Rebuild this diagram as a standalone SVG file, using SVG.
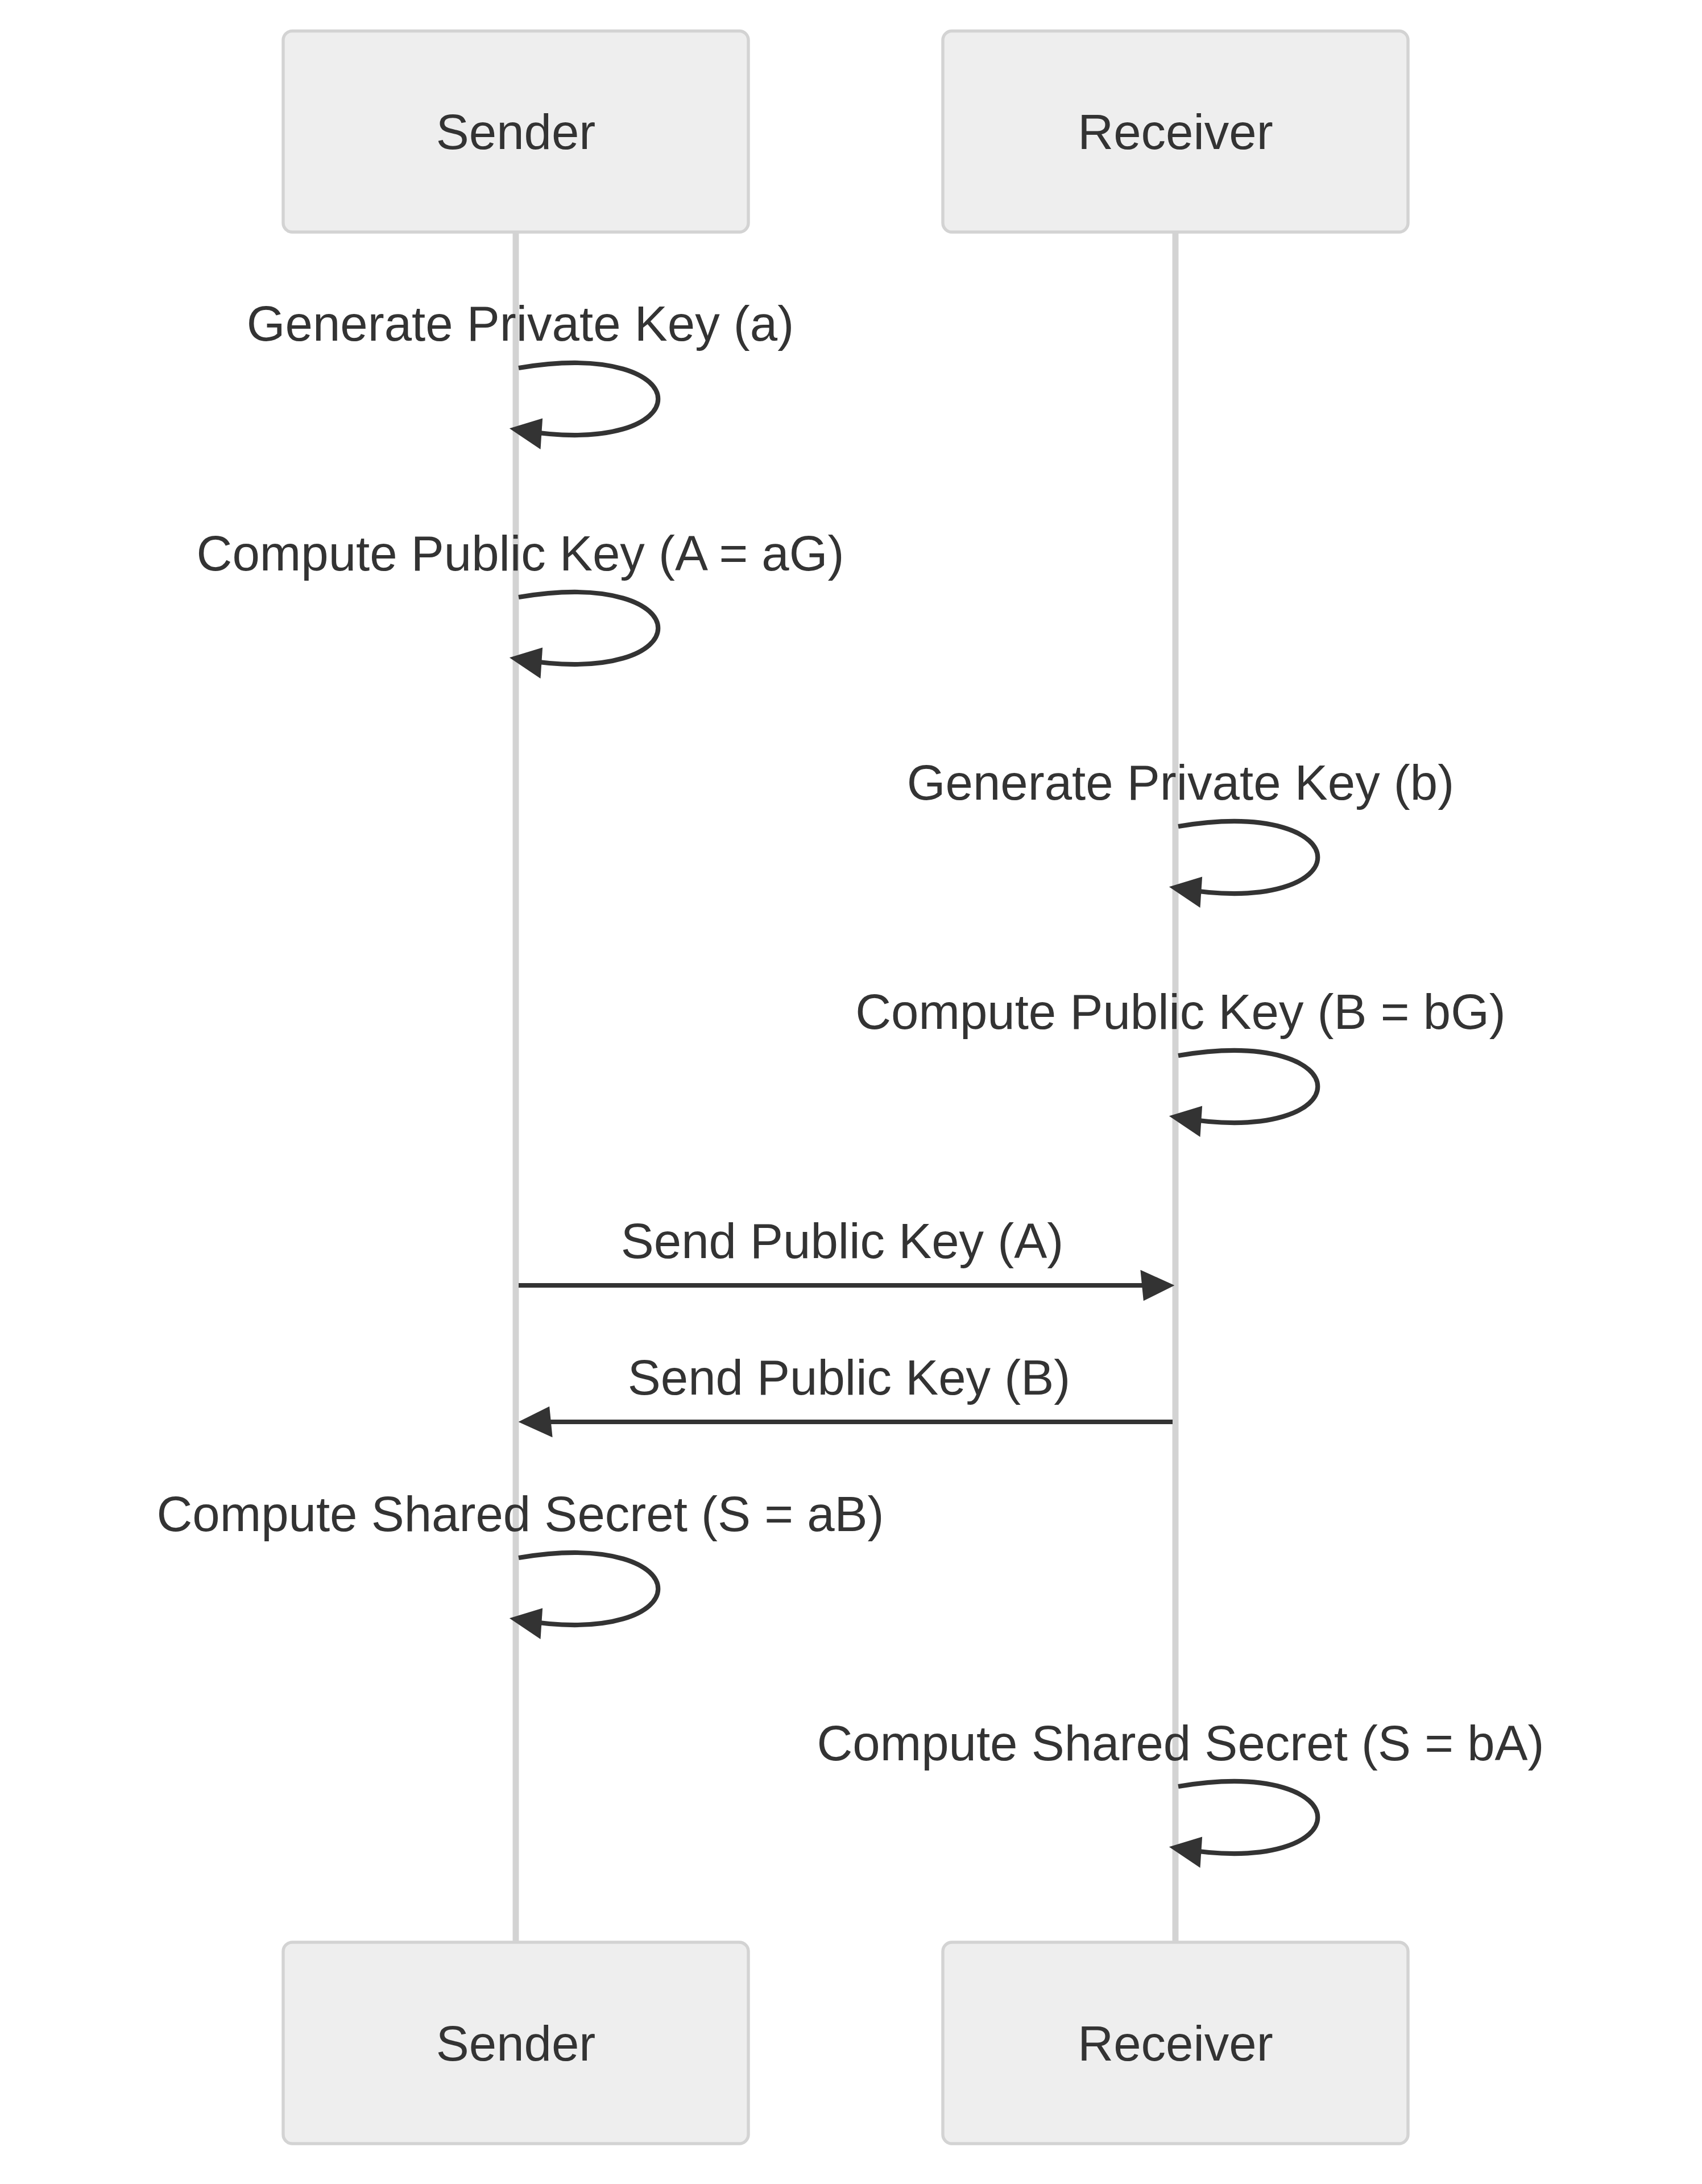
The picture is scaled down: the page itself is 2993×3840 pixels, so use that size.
<svg xmlns="http://www.w3.org/2000/svg" width="2993" height="3840" viewBox="0 0 2993 3840">
<style>
.actor{fill:#eeeeee;stroke:#d3d3d3;stroke-width:5.45}
.actorText{font-family:"Liberation Sans",Arial,sans-serif;font-size:87px;fill:#333333;text-anchor:middle}
.lifeline{stroke:#d3d3d3;stroke-width:10.9;fill:none}
.msg{stroke:#333333;stroke-width:8.2;fill:none;marker-end:url(#arrowhead)}
.msgText{font-family:"Liberation Sans",Arial,sans-serif;font-size:87px;fill:#333333;text-anchor:middle}
</style>
<defs>
<marker id="arrowhead" viewBox="-1 0 11 10" refX="7" refY="5" markerUnits="userSpaceOnUse" markerWidth="60" markerHeight="54.5" orient="auto">
<path d="M -1 0 L 10 5 L 0 10 z" fill="#333333"/>
</marker>
</defs>
<rect x="0" y="0" width="2993" height="3840" fill="#ffffff"/>
<g id="lifelines">
<line class="lifeline" x1="907" y1="408" x2="907" y2="3415"/>
<line class="lifeline" x1="2067" y1="408" x2="2067" y2="3415"/>
</g>
<g id="sender-top">
<rect class="actor" x="498" y="54.5" width="818" height="353.5" rx="16" ry="16"/>
<text class="actorText" x="907" y="262">Sender</text>
</g>
<g id="receiver-top">
<rect class="actor" x="1658" y="54.5" width="818" height="353.5" rx="16" ry="16"/>
<text class="actorText" x="2067" y="262">Receiver</text>
</g>
<g id="sender-bottom">
<rect class="actor" x="498" y="3415" width="818" height="354" rx="16" ry="16"/>
<text class="actorText" x="907" y="3623">Sender</text>
</g>
<g id="receiver-bottom">
<rect class="actor" x="1658" y="3415" width="818" height="354" rx="16" ry="16"/>
<text class="actorText" x="2067" y="3623">Receiver</text>
</g>
<g id="connectors">
<text class="msgText" x="915" y="599">Generate Private Key (a)</text>
<path class="msg" d="M 912,647 C 1239,592.5 1239,810.5 912,756"/>
<text class="msgText" x="915" y="1003">Compute Public Key (A = aG)</text>
<path class="msg" d="M 912,1050 C 1239,995.5 1239,1213.5 912,1159"/>
<text class="msgText" x="2076" y="1406">Generate Private Key (b)</text>
<path class="msg" d="M 2072,1453 C 2399,1398.5 2399,1616.5 2072,1562"/>
<text class="msgText" x="2076" y="1809">Compute Public Key (B = bG)</text>
<path class="msg" d="M 2072,1856 C 2399,1801.5 2399,2019.5 2072,1965"/>
<text class="msgText" x="1481" y="2212">Send Public Key (A)</text>
<path class="msg" d="M 912,2260 L 2049,2260"/>
<text class="msgText" x="1493" y="2452">Send Public Key (B)</text>
<path class="msg" d="M 2062,2500 L 928,2500"/>
<text class="msgText" x="915" y="2692">Compute Shared Secret (S = aB)</text>
<path class="msg" d="M 912,2739 C 1239,2684.5 1239,2902.5 912,2848"/>
<text class="msgText" x="2076" y="3095">Compute Shared Secret (S = bA)</text>
<path class="msg" d="M 2072,3141 C 2399,3086.5 2399,3304.5 2072,3250"/>
</g>
</svg>
